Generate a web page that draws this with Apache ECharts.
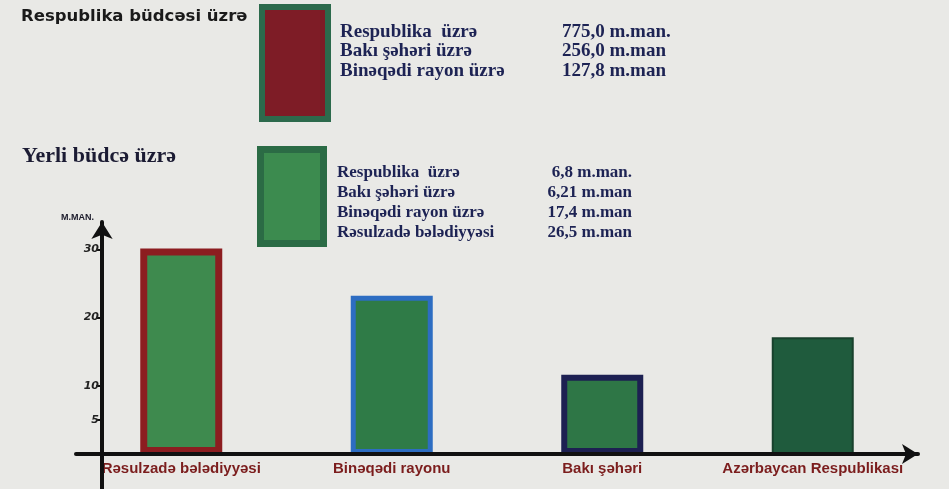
<!DOCTYPE html>
<html>
<head>
<meta charset="utf-8">
<script src="https://cdn.jsdelivr.net/npm/echarts@6/dist/echarts.min.js"></script>
<style>html,body{margin:0;padding:0;background:#e9e9e6;}#chart{width:949px;height:489px;}</style>
</head>
<body>
<div id="chart"></div>
<script>
// ---- data ----
const categories = ['Rəsulzadə bələdiyyəsi', 'Binəqədi rayonu', 'Bakı şəhəri', 'Azərbaycan Respublikası'];
const barValues = [30.1, 23.2, 11.6, 17.1];
const yTickValues = [5, 10, 20, 30];
const yAxisUnit = 'M.MAN.';
const titleRespublika = 'Respublika büdcəsi üzrə';
const titleYerli = 'Yerli büdcə üzrə';
const respLabels = ['Respublika  üzrə', 'Bakı şəhəri üzrə', 'Binəqədi rayon üzrə'];
const respValues = ['775,0 m.man.', '256,0 m.man', '127,8 m.man'];
const yerliLabels = ['Respublika  üzrə', 'Bakı şəhəri üzrə', 'Binəqədi rayon üzrə', 'Rəsulzadə bələdiyyəsi'];
const yerliValues = ['6,8 m.man.', '6,21 m.man', '17,4 m.man', '26,5 m.man'];

// ---- styles ----
const barStyles = [
  { fill: '#3e8a4e', border: '#8c1d20', width: 7 },
  { fill: '#2f7b47', border: '#2d6dc2', width: 5 },
  { fill: '#2e7646', border: '#1d2052', width: 6 },
  { fill: '#1f5b3d', border: '#18412d', width: 2 }
];
const navy = '#1d2354';
const serif = '"Liberation Serif", "DejaVu Serif", serif';

const chart = echarts.init(document.getElementById('chart'), null, { renderer: 'canvas' });

const graphics = [];
graphics.push({ type: 'text', x: 21, y: 17, style: { text: titleRespublika, fontFamily: '"DejaVu Sans", sans-serif', fontWeight: 'bold', fontSize: 16.5, fill: '#1a1a1a', verticalAlign: 'middle' } });
graphics.push({ type: 'text', x: 22, y: 156, style: { text: titleYerli, fontFamily: serif, fontWeight: 'bold', fontSize: 22, fill: '#1b1b33', verticalAlign: 'middle' } });
graphics.push({ type: 'rect', shape: { x: 262, y: 7, width: 66, height: 112 }, style: { fill: '#7e1c26', stroke: '#2c6a4c', lineWidth: 6 } });
graphics.push({ type: 'rect', shape: { x: 260.5, y: 149.5, width: 63, height: 94 }, style: { fill: '#3c8b4f', stroke: '#2b6b45', lineWidth: 7 } });
respLabels.forEach((t, i) => {
  graphics.push({ type: 'text', x: 340, y: 32 + i * 19.5, style: { text: t, fontFamily: serif, fontWeight: 'bold', fontSize: 19, fill: navy, verticalAlign: 'middle' } });
  graphics.push({ type: 'text', x: 562, y: 32 + i * 19.5, style: { text: respValues[i], fontFamily: serif, fontWeight: 'bold', fontSize: 19, fill: navy, verticalAlign: 'middle' } });
});
yerliLabels.forEach((t, i) => {
  graphics.push({ type: 'text', x: 337, y: 173 + i * 20, style: { text: t, fontFamily: serif, fontWeight: 'bold', fontSize: 17, fill: navy, verticalAlign: 'middle' } });
  graphics.push({ type: 'text', x: 632, y: 173 + i * 20, style: { text: yerliValues[i], fontFamily: serif, fontWeight: 'bold', fontSize: 17, fill: navy, verticalAlign: 'middle', align: 'right' } });
});
// downward extension of the vertical axis line below the baseline (decoration)
graphics.push({ type: 'line', z: 10, shape: { x1: 102, y1: 454, x2: 102, y2: 489 }, style: { stroke: '#111', lineWidth: 4 } });

chart.setOption({
  backgroundColor: '#e9e9e6',
  animation: false,
  grid: { left: 76, right: 31, top: 222, bottom: 35, containLabel: false, outerBoundsMode: 'none' },
  xAxis: {
    type: 'category',
    data: categories,
    z: 5,
    axisLine: { onZero: false, symbol: ['none', 'arrow'], symbolSize: [15, 16], lineStyle: { color: '#111', width: 4 } },
    axisTick: { show: false },
    axisLabel: { interval: 0, margin: 7, color: '#7b1d1d', fontFamily: '"Liberation Sans", sans-serif', fontWeight: 'bold', fontSize: 15 },
    splitLine: { show: false }
  },
  yAxis: {
    type: 'value',
    min: 0,
    max: 34,
    offset: -26,
    z: 5,
    name: yAxisUnit,
    nameLocation: 'end',
    nameGap: 4,
    nameTextStyle: { align: 'right', verticalAlign: 'middle', padding: [0, 8, 0, 0], color: '#1a1a2a', fontFamily: '"Liberation Sans", sans-serif', fontWeight: 'bold', fontSize: 9 },
    axisLine: { show: true, symbol: ['none', 'arrow'], symbolSize: [16, 17], lineStyle: { color: '#111', width: 4 } },
    axisTick: { show: true, length: 6, customValues: yTickValues, lineStyle: { color: '#111', width: 2 } },
    axisLabel: { customValues: yTickValues, margin: 3, color: '#222', fontFamily: '"DejaVu Sans", sans-serif', fontWeight: 'bold', fontStyle: 'italic', fontSize: 11 },
    splitLine: { show: false }
  },
  series: [{
    type: 'bar',
    barWidth: 82,
    data: barValues.map((v, i) => ({
      value: v,
      itemStyle: { color: barStyles[i].fill, borderColor: barStyles[i].border, borderWidth: barStyles[i].width }
    }))
  }],
  graphic: graphics
});
</script>
</body>
</html>
